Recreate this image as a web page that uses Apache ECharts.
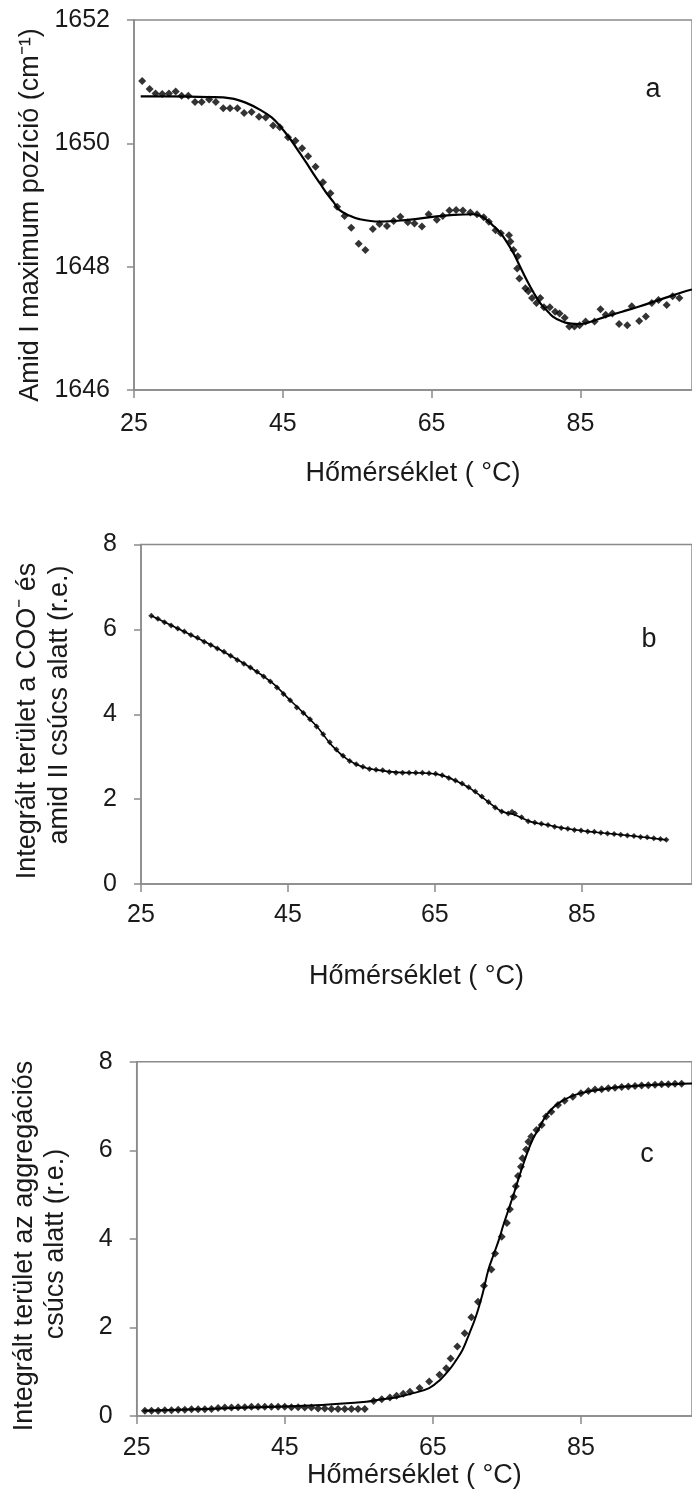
<!DOCTYPE html>
<html>
<head>
<meta charset="utf-8">
<script src="https://cdn.jsdelivr.net/npm/echarts@6/dist/echarts.min.js"></script>
<style>
html,body{margin:0;padding:0;background:#fff;}
#chart{width:692px;height:1501px;}
</style>
</head>
<body>
<div id="chart"></div>
<script>
// ---------- data ----------
var xTicks = [25, 45, 65, 85];
var yTicksA = [1646, 1648, 1650, 1652];
var yTicksBC = [0, 2, 4, 6, 8];

// Panel a: Amide I maximum position (points)
var aPtsT = [26.1,27.1,27.9,28.8,29.7,30.6,31.4,32.3,33.2,34.1,35.1,36.0,37.0,37.9,38.9,39.8,40.8,41.8,42.7,43.7,44.6,45.7,46.7,47.6,48.4,49.4,50.4,51.4,52.3,53.3,54.2,55.2,56.1,57.1,58.0,59.0,59.9,60.8,61.8,62.7,63.7,64.6,65.7,66.5,67.4,68.3,69.2,70.2,71.1,72.0,72.7,73.6,74.3,75.4,75.6,76.0,76.5,76.6,76.8,77.6,78.0,78.5,79.1,79.6,80.1,80.9,81.6,82.2,82.9,83.5,84.2,84.9,85.7,86.9,87.7,88.4,89.3,90.2,91.3,91.9,92.9,93.8,94.6,95.5,96.6,97.4,98.3];
var aPtsV = [1651.01,1650.88,1650.81,1650.80,1650.81,1650.84,1650.77,1650.77,1650.67,1650.67,1650.71,1650.67,1650.57,1650.57,1650.57,1650.49,1650.51,1650.43,1650.42,1650.29,1650.26,1650.10,1650.04,1649.92,1649.79,1649.62,1649.37,1649.19,1648.97,1648.82,1648.63,1648.37,1648.27,1648.61,1648.69,1648.66,1648.74,1648.81,1648.72,1648.70,1648.65,1648.85,1648.76,1648.82,1648.91,1648.92,1648.91,1648.88,1648.85,1648.80,1648.73,1648.59,1648.54,1648.51,1648.41,1648.27,1647.97,1648.17,1647.81,1647.65,1647.60,1647.49,1647.41,1647.49,1647.34,1647.34,1647.27,1647.24,1647.17,1647.03,1647.03,1647.05,1647.11,1647.11,1647.31,1647.22,1647.24,1647.07,1647.05,1647.36,1647.12,1647.19,1647.41,1647.46,1647.38,1647.52,1647.49];
// Panel a: fitted curve
var aFitT = [25.9,30,35,38,40,42,43.5,44.7,46,47.3,48.2,49.1,50,50.9,51.8,52.6,53.9,55.3,58,61,65.4,68,70.7,71.6,72.5,73.4,74.3,75.2,76,76.9,77.8,78.7,79.6,80.5,81.3,82.4,83.5,84.9,86.5,88.4,90.6,92.8,95.8,98.8,100];
var aFitV = [1650.76,1650.76,1650.75,1650.73,1650.66,1650.54,1650.42,1650.27,1650.07,1649.84,1649.68,1649.51,1649.35,1649.19,1649.05,1648.92,1648.83,1648.77,1648.73,1648.75,1648.81,1648.84,1648.85,1648.82,1648.75,1648.65,1648.54,1648.38,1648.22,1648.00,1647.78,1647.58,1647.41,1647.29,1647.19,1647.12,1647.08,1647.07,1647.11,1647.19,1647.27,1647.35,1647.47,1647.59,1647.63];

// Panel b: integrated area under COO- and amide II band (points)
var bPtsT = [26.4,27.3,28.2,29.1,30.0,30.9,31.8,32.7,33.6,34.5,35.4,36.3,37.2,38.1,39.0,39.9,40.8,41.7,42.6,43.5,44.4,45.3,46.2,47.1,48.0,48.9,49.8,50.7,51.6,52.5,53.4,54.3,55.2,56.1,57.0,57.9,58.8,59.7,60.6,61.5,62.4,63.3,64.2,65.1,66.0,66.9,67.8,68.7,69.6,70.5,71.4,72.3,73.2,74.1,75.0,75.5,75.9,76.8,77.7,78.6,79.5,80.4,81.3,82.2,83.1,84.0,84.9,85.8,86.7,87.6,88.5,89.4,90.3,91.2,92.1,93.0,93.9,94.8,95.7,96.5];
var bPtsV = [6.32,6.25,6.17,6.09,6.02,5.95,5.87,5.80,5.71,5.63,5.55,5.47,5.38,5.28,5.19,5.10,5.00,4.89,4.77,4.63,4.48,4.33,4.16,4.03,3.88,3.71,3.53,3.34,3.17,3.02,2.90,2.82,2.76,2.71,2.69,2.68,2.64,2.62,2.62,2.62,2.62,2.62,2.61,2.60,2.56,2.50,2.44,2.37,2.28,2.18,2.06,1.93,1.80,1.71,1.66,1.70,1.66,1.57,1.48,1.45,1.42,1.39,1.35,1.32,1.30,1.27,1.26,1.24,1.23,1.21,1.19,1.18,1.16,1.14,1.13,1.11,1.10,1.08,1.06,1.04];
// Panel b: fitted curve
var bFitT = [26.4,30,35,40,43,45,47,49,51,53,55,57,60,64,66,68,70,72,74,76,78,80,84,88,92,96.5];
var bFitV = [6.32,6.02,5.59,5.09,4.72,4.38,4.05,3.70,3.26,2.95,2.77,2.69,2.63,2.61,2.56,2.42,2.23,1.97,1.72,1.62,1.47,1.40,1.28,1.20,1.13,1.04];

// Panel c: integrated area under aggregation band (points)
var cPtsT = [26.1,27.0,27.9,28.8,29.7,30.6,31.5,32.4,33.3,34.2,35.1,36.0,36.9,37.8,38.7,39.6,40.5,41.4,42.3,43.2,44.1,45.0,45.9,46.8,47.7,48.6,49.5,50.4,51.3,52.2,53.1,54.0,54.9,55.8,57.0,58.1,59.2,60.1,61.0,61.9,63.2,64.5,65.9,66.8,67.4,68.3,69.3,70.2,71.1,71.9,72.9,73.4,74.3,75.0,75.4,75.9,76.2,76.5,76.9,77.1,77.6,77.9,78.3,79.0,79.7,80.3,81.0,81.9,82.8,83.9,85.0,86.0,86.9,87.8,88.7,89.6,90.5,91.4,92.3,93.2,94.1,95.0,95.9,96.8,97.7,98.6];
var cPtsV = [0.12,0.12,0.12,0.13,0.13,0.14,0.14,0.15,0.15,0.15,0.16,0.18,0.19,0.19,0.20,0.20,0.21,0.21,0.21,0.21,0.21,0.21,0.20,0.20,0.19,0.19,0.17,0.17,0.16,0.16,0.16,0.16,0.16,0.16,0.34,0.38,0.42,0.46,0.50,0.55,0.63,0.78,0.93,1.08,1.30,1.57,1.87,2.23,2.58,2.94,3.31,3.67,4.05,4.36,4.67,4.95,5.19,5.42,5.63,5.82,6.02,6.19,6.31,6.46,6.57,6.76,6.87,7.02,7.12,7.21,7.29,7.34,7.37,7.38,7.40,7.41,7.43,7.44,7.45,7.46,7.47,7.48,7.49,7.49,7.50,7.50];
// Panel c: fitted curve
var cFitT = [25.9,40,50,56,57.5,60,62,64.5,66,67.2,68.1,69,69.9,70.8,71.7,72.5,73.2,73.9,74.5,75.2,75.9,76.5,77.2,77.9,78.5,79.2,80.5,82.3,85,88,91,95,100];
var cFitV = [0.12,0.19,0.25,0.32,0.36,0.42,0.50,0.63,0.82,1.04,1.25,1.49,1.85,2.24,2.75,3.30,3.64,3.97,4.30,4.65,5.00,5.32,5.68,6.01,6.25,6.46,6.83,7.10,7.29,7.38,7.44,7.48,7.51];

var xTitle = 'Hőmérséklet ( °C)';
var yTitleA = 'Amid I maximum pozíció (cm⁻¹)';
var yTitleB1 = 'Integrált terület a COO⁻ és';
var yTitleB2 = 'amid II csúcs alatt (r.e.)';
var yTitleC1 = 'Integrált terület az aggregációs';
var yTitleC2 = 'csúcs alatt (r.e.)';
var panelLetters = ['a', 'b', 'c'];

// ---------- chart ----------
function zip(t, v) { return t.map(function (x, i) { return [x, v[i]]; }); }

var FONT = '"Liberation Sans", Arial, sans-serif';
var TXT = '#1a1a1a';
var AX = '#8a8a8a';

var grids = [
  { left: 134, top: 20, height: 370, right: -9 },
  { left: 141, top: 544.5, height: 339.5, right: -7 },
  { left: 136.7, top: 1061.7, height: 354.3, right: -7 }
];
var xNameGaps = [70, 79, 40];
var xLabelMargins = [22, 19, 20];

function xAxisOf(i) {
  return {
    gridIndex: i, type: 'value', min: 25, max: 100,
    name: xTitle, nameLocation: 'middle', nameGap: xNameGaps[i],
    nameTextStyle: { fontFamily: FONT, fontSize: 27, color: TXT, verticalAlign: 'top' },
    axisLine: { show: true, lineStyle: { color: AX, width: 1.5 } },
    axisTick: { show: true, inside: false, length: 8, customValues: xTicks, lineStyle: { color: AX, width: 1.5 } },
    axisLabel: { show: true, customValues: xTicks, margin: xLabelMargins[i], fontFamily: FONT, fontSize: 25, color: TXT },
    splitLine: { show: false }
  };
}
function yAxisOf(i, ticks) {
  return {
    gridIndex: i, type: 'value', min: ticks[0], max: ticks[ticks.length - 1], interval: 2,
    axisLine: { show: true, onZero: false, lineStyle: { color: AX, width: 1.5 } },
    axisTick: { show: true, length: 7, customValues: ticks, lineStyle: { color: AX, width: 1.5 } },
    axisLabel: { show: true, customValues: ticks, margin: 24, fontFamily: FONT, fontSize: 25, color: TXT,
      formatter: function (v) { return String(Math.round(v)); } },
    splitLine: { show: false }
  };
}

function scatter(i, t, v, size) {
  return {
    type: 'scatter', xAxisIndex: i, yAxisIndex: i, data: zip(t, v),
    symbol: 'diamond', symbolSize: size, itemStyle: { color: '#000' }, silent: true, z: 3
  };
}
function fit(i, t, v, w) {
  return {
    type: 'line', xAxisIndex: i, yAxisIndex: i, data: zip(t, v), smooth: 0.4,
    showSymbol: false, lineStyle: { color: '#000', width: w }, silent: true, z: 4
  };
}

function vText(x, y, text, size) {
  return {
    type: 'text', x: x, y: y, rotation: Math.PI / 2, silent: true,
    style: { text: text, fontFamily: FONT, fontSize: size, fill: TXT, align: 'center', verticalAlign: 'middle' }
  };
}
function hText(x, y, text, size) {
  return {
    type: 'text', x: x, y: y, silent: true,
    style: { text: text, fontFamily: FONT, fontSize: size, fill: TXT, align: 'center', verticalAlign: 'middle' }
  };
}

var chart = echarts.init(document.getElementById('chart'), null, { renderer: 'canvas' });
chart.setOption({
  animation: false,
  backgroundColor: '#fff',
  grid: grids.map(function (g) {
    return Object.assign({ show: true, borderColor: AX, borderWidth: 1.5, backgroundColor: 'transparent', containLabel: false }, g);
  }),
  xAxis: [xAxisOf(0), xAxisOf(1), xAxisOf(2)],
  yAxis: [yAxisOf(0, yTicksA), yAxisOf(1, yTicksBC), yAxisOf(2, yTicksBC)],
  series: [
    scatter(0, aPtsT, aPtsV, 8), fit(0, aFitT, aFitV, 2.2),
    scatter(1, bPtsT, bPtsV, 6), fit(1, bFitT, bFitV, 1.6),
    scatter(2, cPtsT, cPtsV, 8), fit(2, cFitT, cFitV, 2)
  ],
  graphic: [
    vText(31, 215, yTitleA, 27),
    vText(28, 721, yTitleB1, 27),
    vText(60, 705, yTitleB2, 27),
    vText(25, 1246, yTitleC1, 27),
    vText(56, 1244, yTitleC2, 27),
    hText(653, 90, panelLetters[0], 27),
    hText(649, 640, panelLetters[1], 27),
    hText(647, 1155, panelLetters[2], 27)
  ]
});
</script>
</body>
</html>
